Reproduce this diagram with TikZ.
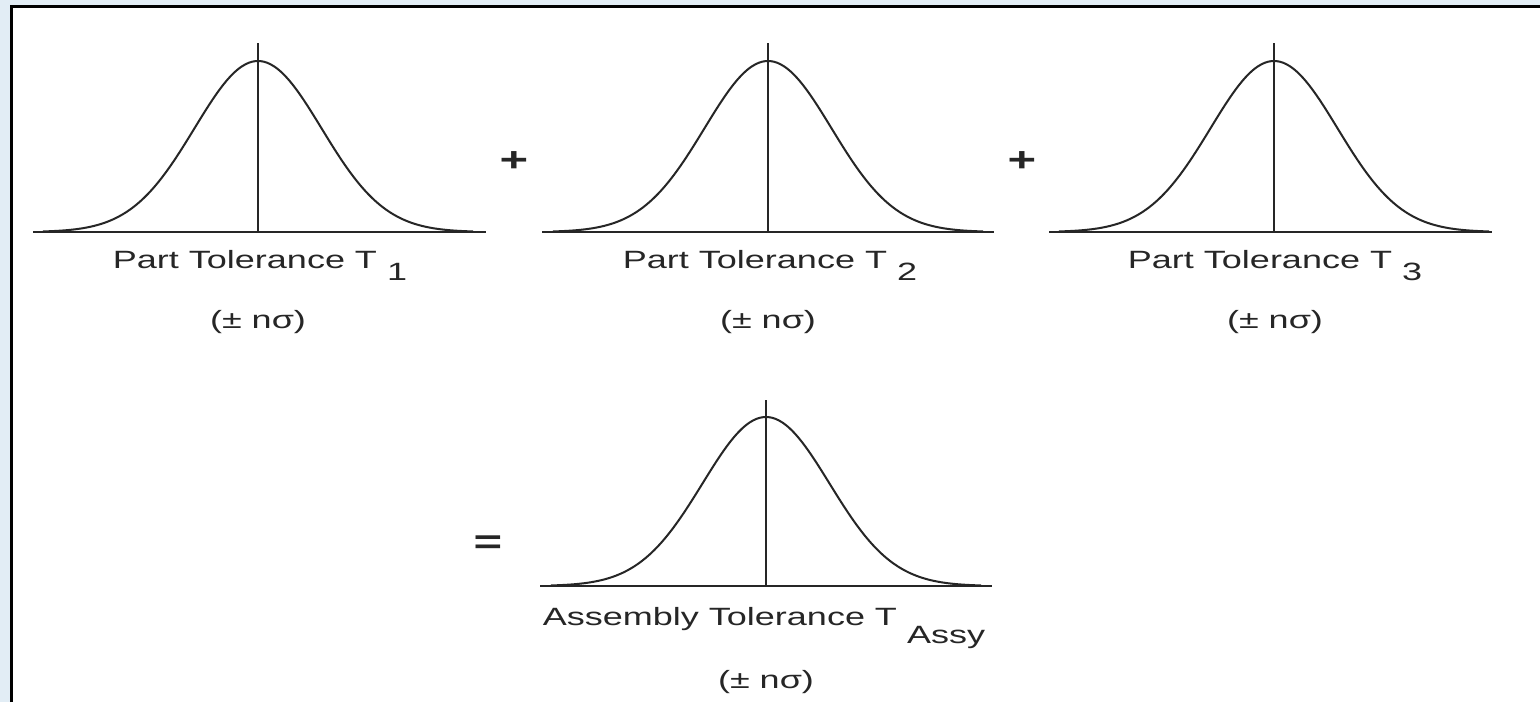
\documentclass[tikz,border=0pt]{standalone}
\usepackage{fontspec}
\setmainfont{Liberation Sans}[FakeStretch=1.44]
\definecolor{bgblue}{HTML}{E2EDF5}
\definecolor{ink}{HTML}{262626}
\begin{document}
\begin{tikzpicture}[x=1pt,y=-1pt,
  lbl/.style={font=\fontsize{25}{30}\selectfont, text=ink, inner sep=0pt},
  opsign/.style={font=\fontsize{34}{36}\selectfont\bfseries, text=ink, inner sep=0pt},
  curve/.style={draw=ink, line width=2pt},
  axisline/.style={draw=ink, line width=2.4pt},
  midline/.style={draw=ink, line width=2pt}]
\useasboundingbox (0,0) rectangle (1540,702);
\fill[bgblue] (0,0) rectangle (1540,702);
\fill[white] (11,6) rectangle (1540,702);
\draw[line width=3pt] (11,702) -- (11,6) -- (1540,6);
\foreach \cx/\by/\l/\r/\h/\top/\n in {258/232/33/486/171/43/1, 768/232/542/994/171/43/2, 1274/232/1049/1492/171/43/3, 766/586/540/992/169/400/4} {
  \coordinate (base\n L) at (\l,\by);
  \coordinate (base\n R) at (\r,\by);
  \coordinate (top\n) at (\cx,\top);
  \coordinate (foot\n) at (\cx,\by);
  \draw[axisline] (base\n L) -- (base\n R);
  \draw[midline] (foot\n) -- (top\n);
  \draw[curve] plot[domain=-215:215, samples=120, smooth] ({\cx+\x},{\by-\h*exp(-0.5*(\x/63.5)^2)});
}
\node[lbl, anchor=base] (lab1) at (260,268) {Part Tolerance T \raisebox{-12pt}{1}};
\node[lbl, anchor=base] (sig1) at (258,328) {(± nσ)};
\node[lbl, anchor=base] (lab2) at (770,268) {Part Tolerance T \raisebox{-12pt}{2}};
\node[lbl, anchor=base] (sig2) at (768,328) {(± nσ)};
\node[lbl, anchor=base] (lab3) at (1275,268) {Part Tolerance T \raisebox{-12pt}{3}};
\node[lbl, anchor=base] (sig3) at (1275,328) {(± nσ)};
\node[lbl, anchor=base] (lab4) at (764,625) {Assembly Tolerance T \raisebox{-18pt}{Assy}};
\node[lbl, anchor=base] (sig4) at (766,688) {(± nσ)};
\node[opsign] (plus1) at (514,162) {+};
\node[opsign] (plus2) at (1022,162) {+};
\node[opsign] (eq) at (488,545) {=};
\end{tikzpicture}
\end{document}
